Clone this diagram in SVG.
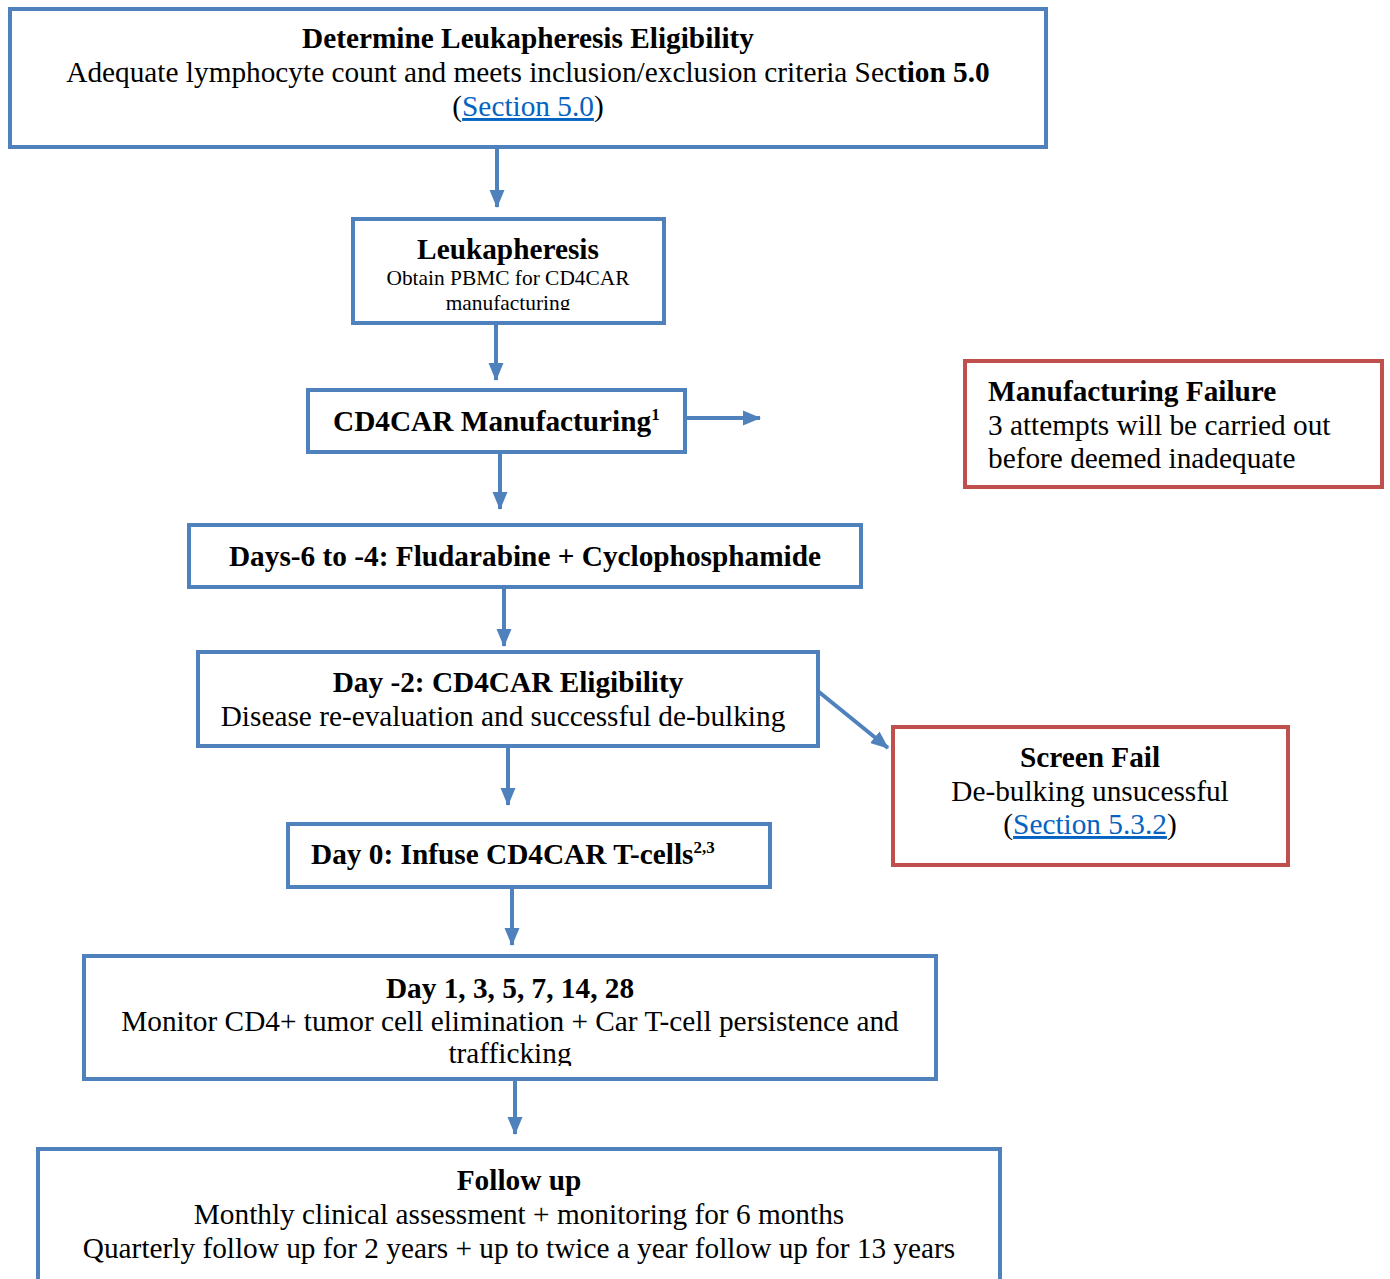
<svg xmlns="http://www.w3.org/2000/svg" width="1390" height="1279" viewBox="0 0 1390 1279">
<defs>
<style>
.b{fill:#fff;stroke:#4f81bd;stroke-width:4}
.r{fill:#fff;stroke:#c0504d;stroke-width:4}
text{font-family:"Liberation Serif","Times New Roman",serif;fill:#000;font-size:29.3px}
.c{text-anchor:middle}
.t{font-weight:bold}
.s{font-size:21.4px}
.sup{font-size:17px}
.lk{fill:#0563c1;text-decoration:underline}
.cn{stroke:#4f81bd;stroke-width:4;fill:none}
</style>
<marker id="ah" markerUnits="userSpaceOnUse" markerWidth="18" markerHeight="18" viewBox="0 0 18 18" refX="17" refY="9" orient="auto">
<path d="M0,1.5 L18,9 L0,16.5 Z" fill="#4f81bd"/>
</marker>
<clipPath id="clip2"><rect x="353" y="219" width="311" height="91"/></clipPath>
<clipPath id="clip7"><rect x="84" y="956" width="852" height="110"/></clipPath>
</defs>

<g id="connectors">
<line class="cn" x1="497" y1="149" x2="497" y2="207" marker-end="url(#ah)"/>
<line class="cn" x1="496" y1="325" x2="496" y2="380" marker-end="url(#ah)"/>
<line class="cn" x1="687" y1="418" x2="760" y2="418" marker-end="url(#ah)"/>
<line class="cn" x1="500" y1="454" x2="500" y2="509" marker-end="url(#ah)"/>
<line class="cn" x1="504" y1="589" x2="504" y2="646" marker-end="url(#ah)"/>
<line class="cn" x1="819" y1="692" x2="888" y2="748" marker-end="url(#ah)"/>
<line class="cn" x1="508" y1="748" x2="508" y2="805" marker-end="url(#ah)"/>
<line class="cn" x1="512" y1="889" x2="512" y2="945" marker-end="url(#ah)"/>
<line class="cn" x1="515" y1="1081" x2="515" y2="1134" marker-end="url(#ah)"/>
</g>

<g id="n1">
<rect class="b" x="10" y="9" width="1036" height="138"/>
<text class="c t" x="528" y="48">Determine Leukapheresis Eligibility</text>
<text class="c" x="528" y="82">Adequate lymphocyte count and meets inclusion/exclusion criteria Sec<tspan class="t">tion 5.0</tspan></text>
<text class="c" x="528" y="116">(<tspan class="lk">Section 5.0</tspan>)</text>
</g>

<g id="n2">
<rect class="b" x="353" y="219" width="311" height="104"/>
<g clip-path="url(#clip2)">
<text class="c t" x="508" y="259">Leukapheresis</text>
<text class="c s" x="508" y="285">Obtain PBMC for CD4CAR</text>
<text class="c s" x="508" y="310">manufacturing</text>
</g>
</g>

<g id="n3">
<rect class="b" x="308" y="390" width="377" height="62"/>
<text class="t" x="333" y="431">CD4CAR Manufacturing<tspan class="sup" dy="-11">1</tspan></text>
</g>

<g id="n_mf">
<rect class="r" x="965" y="361" width="417" height="126"/>
<text class="t" x="988" y="401">Manufacturing Failure</text>
<text x="988" y="435">3 attempts will be carried out</text>
<text x="988" y="468">before deemed inadequate</text>
</g>

<g id="n4">
<rect class="b" x="189" y="525" width="672" height="62"/>
<text class="c t" x="525" y="566">Days-6 to -4: Fludarabine + Cyclophosphamide</text>
</g>

<g id="n5">
<rect class="b" x="198" y="652" width="620" height="94"/>
<text class="c t" x="508" y="692">Day -2: CD4CAR Eligibility</text>
<text class="c" x="503" y="726">Disease re-evaluation and successful de-bulking</text>
</g>

<g id="n_sf">
<rect class="r" x="893" y="727" width="395" height="138"/>
<text class="c t" x="1090" y="767">Screen Fail</text>
<text class="c" x="1090" y="801">De-bulking unsucessful</text>
<text class="c" x="1090" y="834">(<tspan class="lk">Section 5.3.2</tspan>)</text>
</g>

<g id="n6">
<rect class="b" x="288" y="824" width="482" height="63"/>
<text class="t" x="311" y="864">Day 0: Infuse CD4CAR T-cells<tspan class="sup" dy="-11">2,3</tspan></text>
</g>

<g id="n7">
<rect class="b" x="84" y="956" width="852" height="123"/>
<g clip-path="url(#clip7)">
<text class="c t" x="510" y="998">Day 1, 3, 5, 7, 14, 28</text>
<text class="c" x="510" y="1031">Monitor CD4+ tumor cell elimination + Car T-cell persistence and</text>
<text class="c" x="510" y="1063">trafficking</text>
</g>
</g>

<g id="n8">
<rect class="b" x="38" y="1149" width="962" height="160"/>
<text class="c t" x="519" y="1190">Follow up</text>
<text class="c" x="519" y="1224">Monthly clinical assessment + monitoring for 6 months</text>
<text class="c" x="519" y="1258">Quarterly follow up for 2 years + up to twice a year follow up for 13 years</text>
</g>
</svg>
